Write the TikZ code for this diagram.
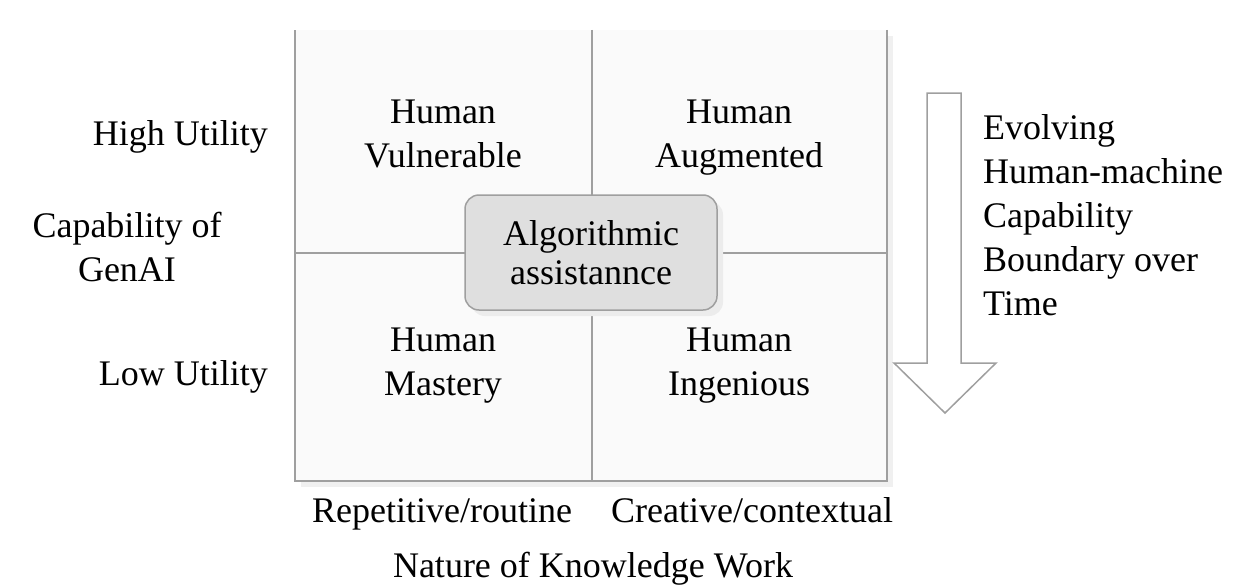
\documentclass[tikz,border=0pt]{standalone}
\usepackage{fontspec}
\setmainfont{Liberation Serif}
\usetikzlibrary{positioning}
\tikzset{
  lbl/.style={font=\fontsize{36}{44}\selectfont, inner sep=0pt, align=center,
    execute at begin node=\strut},
  quadline/.style={draw=gray!75, line width=1.5pt},
  algobox/.style={draw=gray!75, fill=gray!25, line width=1.5pt, rounded corners=14pt,
    minimum width=252pt, minimum height=115pt, inner sep=0pt, align=center,
    font=\fontsize{36}{39}\selectfont}
}
\begin{document}
\begin{tikzpicture}[x=1pt,y=-1pt]
\useasboundingbox (0,0) rectangle (1239,586);
% shadow and quadrant grid
\fill [gray!12] (301,36) rectangle (893,487);
\fill [gray!4] (295,30) rectangle (887,481);
\draw [quadline] (887,30) -- (887,481) -- (295,481) -- (295,30);
\draw [quadline] (592,30) -- (592,481);
\draw [quadline] (295,253) -- (887,253);
% algorithmic box
\fill [gray!15, rounded corners=14pt] (471,201) rectangle (723,316);
\node [algobox] (algo) at (591,252.5) {Algorithmic\\assistannce};
% quadrant labels
\node [lbl, anchor=north] (hv) at (443,100.2) {Human\\Vulnerable};
\node [lbl, anchor=north] (ha) at (739,100.2) {Human\\Augmented};
\node [lbl, anchor=north] (hm) at (443,328.2) {Human\\Mastery};
\node [lbl, anchor=north] (hi) at (739,328.2) {Human\\Ingenious};
% axis labels
\node [lbl, anchor=base east] (high) at (268,145) {High Utility};
\node [lbl, anchor=north] (cap) at (127,212.2) {Capability of\\GenAI};
\node [lbl, anchor=base east] (low) at (268,385) {Low Utility};
\node [lbl, anchor=base] (rep) at (442,522) {Repetitive/routine};
\node [lbl, anchor=base] (cre) at (752,522) {Creative/contextual};
\node [lbl, anchor=base] (nat) at (593,577) {Nature of Knowledge Work};
% boundary arrow
\draw [draw=gray!75, fill=white, line width=1.5pt]
  (927,93) -- (961,93) -- (961,363) -- (996,363) -- (945,413)
  -- (894,363) -- (927,363) -- cycle;
\node [lbl, anchor=north west, align=left] (evo) at (983,114.2)
  {Evolving\\Human-machine\\Capability\\Boundary over\\Time};
\end{tikzpicture}
\end{document}
